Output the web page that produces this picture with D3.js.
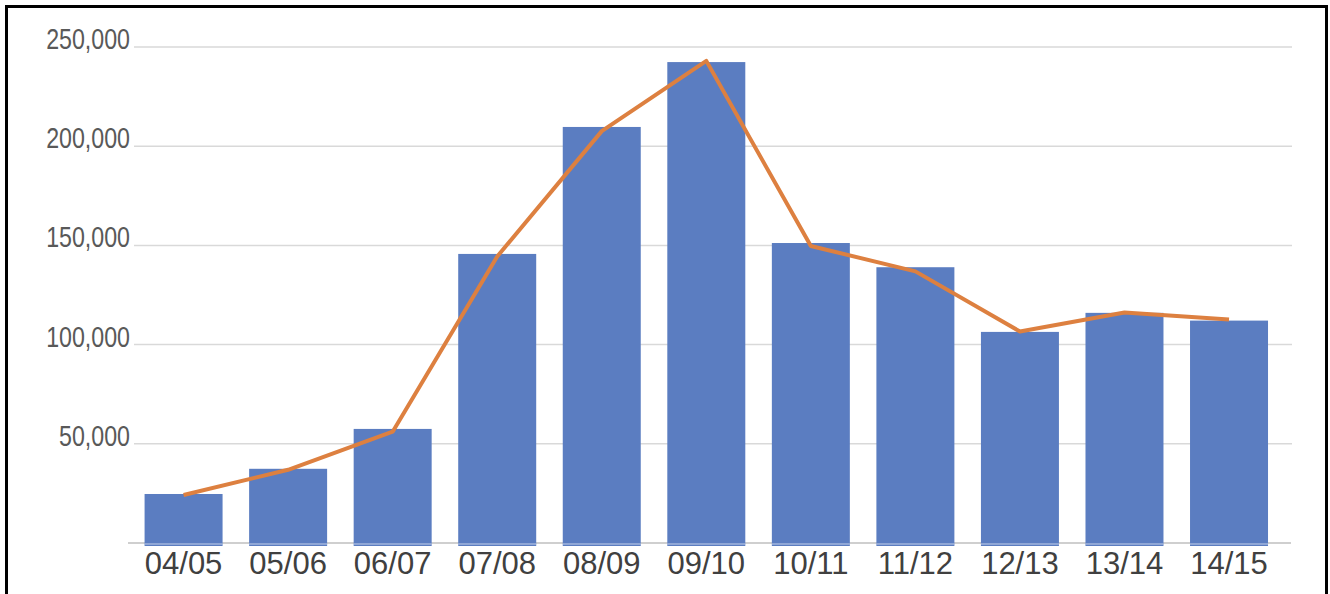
<!DOCTYPE html>
<html>
<head>
<meta charset="utf-8">
<script src="https://cdn.jsdelivr.net/npm/d3@7"></script>
<style>
  html, body { margin: 0; padding: 0; background: #fff; }
  svg { display: block; }
</style>
</head>
<body>
<script>
// data
var seasons = ['04/05', '05/06', '06/07', '07/08', '08/09', '09/10', '10/11', '11/12', '12/13', '13/14', '14/15'];
var barValues = [24700, 37400, 57500, 145700, 209700, 242400, 151200, 139000, 106400, 116000, 112100];
var lineValues = [24200, 36900, 56100, 144400, 207600, 243000, 149700, 136900, 106600, 116200, 112600];
var yTicks = [50000, 100000, 150000, 200000, 250000];

// chart stuff
var width = 1330,
    height = 594;

var svg = d3.select('body').append('svg')
    .attr('width', width)
    .attr('height', height);

var x = d3.scaleBand()
    .domain(seasons)
    .range([131.3, 1281.3])
    .paddingInner(0.254)
    .paddingOuter(0.127);

var y = d3.scaleLinear()
    .domain([0, 250000])
    .range([543, 47]);

// gridlines + labels
var grid = svg.append('g').attr('class', 'grid');
grid.selectAll('line')
    .data(yTicks)
  .enter().append('line')
    .attr('x1', 134)
    .attr('x2', 1292)
    .attr('y1', function(d) { return y(d); })
    .attr('y2', function(d) { return y(d); })
    .style('stroke', '#d9d9d9')
    .style('stroke-width', 1.5);

// tick labels are a narrow face, so squeeze a normal one
grid.selectAll('text')
    .data(yTicks)
  .enter().append('text')
    .attr('transform', function(d) { return 'translate(130,' + (y(d) + 2) + ') scale(0.8,1)'; })
    .attr('text-anchor', 'end')
    .style('font-family', '"Liberation Sans", Arial, sans-serif')
    .style('font-size', '29px')
    .style('fill', '#595959')
    .text(d3.format(','));

// baseline
svg.append('line')
    .attr('x1', 128)
    .attr('x2', 1291)
    .attr('y1', y(0))
    .attr('y2', y(0))
    .style('stroke', '#bfbfbf')
    .style('stroke-width', 1.5);

// bars
svg.append('g').attr('class', 'bars')
    .selectAll('rect')
    .data(seasons)
  .enter().append('rect')
    .attr('x', function(d) { return x(d); })
    .attr('y', function(d, i) { return y(barValues[i]); })
    .attr('width', x.bandwidth())
    .attr('height', function(d, i) { return y(0) - y(barValues[i]) + 3; })
    .style('fill', '#5b7dc1');

// light strip near the bottom of each bar
svg.append('g')
    .selectAll('line')
    .data(seasons)
  .enter().append('line')
    .attr('x1', function(d) { return x(d); })
    .attr('x2', function(d) { return x(d) + x.bandwidth(); })
    .attr('y1', y(0) + 1)
    .attr('y2', y(0) + 1)
    .style('stroke', '#c5d1ec')
    .style('stroke-width', 1.2);

// orange line
var line = d3.line()
    .x(function(d, i) { return x(seasons[i]) + x.bandwidth() / 2; })
    .y(function(d) { return y(d); });

svg.append('path')
    .datum(lineValues)
    .attr('d', line)
    .style('fill', 'none')
    .style('stroke', '#dd8040')
    .style('stroke-width', 4)
    .style('stroke-linejoin', 'round');

// x labels
svg.append('g').attr('class', 'xlabels')
    .selectAll('text')
    .data(seasons)
  .enter().append('text')
    .attr('x', function(d) { return x(d) + x.bandwidth() / 2; })
    .attr('y', 574)
    .attr('text-anchor', 'middle')
    .style('font-family', '"Liberation Sans", Arial, sans-serif')
    .style('font-size', '31px')
    .style('fill', '#404040')
    .text(function(d) { return d; });

// frame
svg.append('rect')
    .attr('x', 6.5)
    .attr('y', 6.5)
    .attr('width', 1320)
    .attr('height', 620)
    .style('fill', 'none')
    .style('stroke', '#000')
    .style('stroke-width', 3);
</script>
</body>
</html>
